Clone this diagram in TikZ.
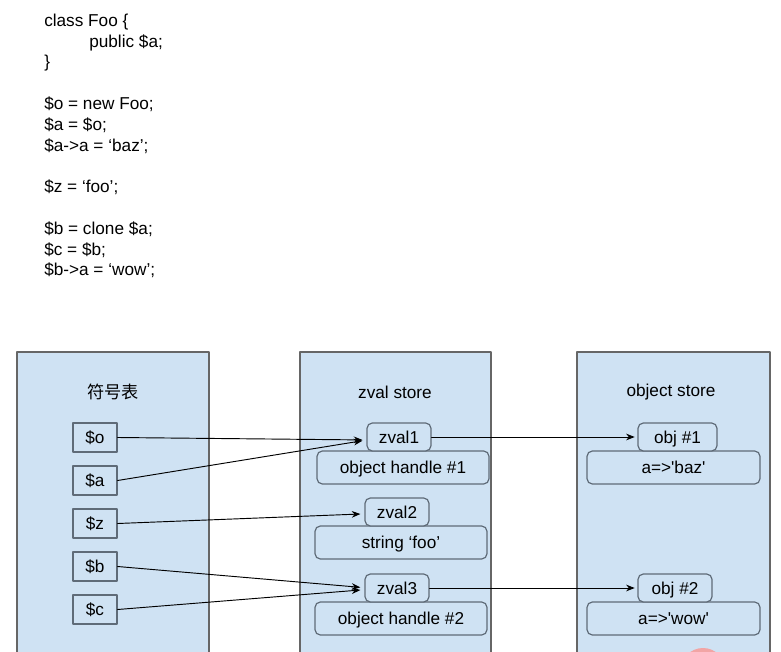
\documentclass[tikz,border=0pt]{standalone}
\usepackage{fontspec}
\setmainfont{Liberation Sans}[Ligatures=TeXOff]
\newfontfamily\cjkfont{Noto Sans CJK SC}
\usetikzlibrary{arrows.meta}

\definecolor{panelblue}{HTML}{CFE2F3}
\definecolor{panelline}{HTML}{666666}
\definecolor{boxline}{HTML}{5F6B78}
\definecolor{dotred}{HTML}{F2A5A5}

\tikzset{
  panel/.style={draw=panelline, line width=0.9pt, fill=panelblue},
  symbox/.style={draw=boxline, line width=0.9pt, fill=panelblue,
    minimum width=33pt, minimum height=21.75pt, inner sep=0pt,
    text height=10.4pt, text depth=1.1pt},
  tagbox/.style={draw=boxline, line width=0.9pt, fill=panelblue, rounded corners=4pt,
    minimum width=48pt, minimum height=21pt, inner sep=0pt,
    text height=10.4pt, text depth=1.1pt},
  valbox/.style={draw=boxline, line width=0.9pt, fill=panelblue, rounded corners=4pt,
    minimum width=129pt, minimum height=24.75pt, inner sep=0pt,
    text height=10.4pt, text depth=1.1pt},
  link/.style={line width=0.7pt, -{Stealth[length=6.5pt,width=5pt]}},
}

\begin{document}
\begin{tikzpicture}[x=0.75pt, y=-0.75pt, line cap=round, line join=round,
    font=\fontsize{12.9}{15.6}\selectfont]
  \clip (0,0) rectangle (781,652);
  \fill[white] (0,0) rectangle (781,652);

  % php source
  \node[anchor=north west, inner sep=0pt, align=left] (code) at (44,13.5)
    {class Foo \{\\
     \hspace*{33.75pt}public \$a;\\
     \}\\[15.6pt]
     \$o = new Foo;\\
     \$a = \$o;\\
     \$a->a = ‘baz’;\\[15.6pt]
     \$z = ‘foo’;\\[15.6pt]
     \$b = clone \$a;\\
     \$c = \$b;\\
     \$b->a = ‘wow’;};

  % the three stores
  \draw[panel] (17,660) -- (17,352) -- (209,352) -- (209,660);
  \draw[panel] (300,660) -- (300,352) -- (491,352) -- (491,660);
  \draw[panel] (577,660) -- (577,352) -- (770,352) -- (770,660);
  \fill[dotred] (703,670) circle (22);

  \node (symtitle)  at (113,392) {\cjkfont 符号表};
  \node (zvaltitle) at (395,392) {zval store};
  \node (objtitle)  at (671,392) {object store};

  % symbol table
  \node[symbox] (symo) at (95,437.5) {\$o};
  \node[symbox] (syma) at (95,480.5) {\$a};
  \node[symbox] (symz) at (95,523.5) {\$z};
  \node[symbox] (symb) at (95,566.5) {\$b};
  \node[symbox] (symc) at (95,609.5) {\$c};

  % zvals
  \node[valbox] (hdl1)  at (403,467.5) {object handle \#1};
  \node[tagbox] (zval1) at (399,437)   {zval1};
  \node[valbox] (foo)   at (401,542.5) {string ‘foo’};
  \node[tagbox] (zval2) at (397,512)   {zval2};
  \node[valbox] (hdl2)  at (401,618.5) {object handle \#2};
  \node[tagbox] (zval3) at (397,588)   {zval3};

  % objects
  \node[valbox, minimum width=129.75pt] (baz) at (673.5,467.5) {a=>'baz'};
  \node[tagbox, minimum width=59.25pt] (obj1) at (677.5,437) {obj \#1};
  \node[valbox, minimum width=129.75pt] (wow) at (673.5,618.5) {a=>'wow'};
  \node[tagbox, minimum width=55.5pt] (obj2) at (675,588) {obj \#2};

  % references
  \draw[link] (symo.east) -- ([xshift=-3pt,yshift=-2.2pt]zval1.west);
  \draw[link] (syma.east) -- ([xshift=-3pt,yshift=-2.8pt]zval1.west);
  \draw[link] (symz.east) -- ([xshift=-3pt,yshift=-1.5pt]zval2.west);
  \draw[link] (symb.east) -- ([xshift=-3pt,yshift=0.5pt]zval3.west);
  \draw[link] (symc.east) -- ([xshift=-3pt,yshift=-1.5pt]zval3.west);
  \draw[link] (zval1.east) -- ([xshift=-2pt]obj1.west);
  \draw[link] (zval3.east) -- ([xshift=-2pt]obj2.west);
\end{tikzpicture}
\end{document}
